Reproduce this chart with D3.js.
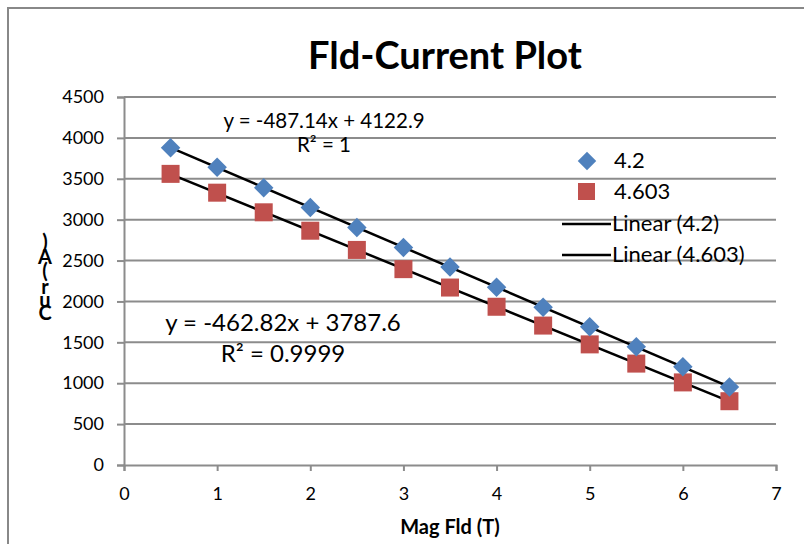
<!DOCTYPE html>
<html lang="en">
  <head>
    <meta charset="UTF-8" />
    <title>Fld-Current Plot</title>
    <script src="https://cdn.jsdelivr.net/npm/d3@7"></script>
    <style>
      body { margin: 0; background: #fff; }
      svg { display: block; font-family: Lato, "Open Sans", sans-serif; }
    </style>
  </head>
  <body>
    <div id="chart"></div>
    <script>
      // data
      const field = [0.5, 1, 1.5, 2, 2.5, 3, 3.5, 4, 4.5, 5, 5.5, 6, 6.5];
      const cur42 = [3880, 3640, 3390, 3150, 2905, 2660, 2420, 2175, 1930, 1690, 1445, 1200, 955];
      const cur4603 = [3560, 3330, 3090, 2865, 2630, 2395, 2170, 1935, 1705, 1475, 1240, 1010, 780];
      const xTicks = [0, 1, 2, 3, 4, 5, 6, 7];
      const yTicks = [0, 500, 1000, 1500, 2000, 2500, 3000, 3500, 4000, 4500];
      const seriesNames = ["4.2", "4.603"];

      const width = 804;
      const height = 544;
      const margin = { left: 124, right: 28, top: 97, bottom: 79 };

      const x = d3.scaleLinear().domain([0, 7]).range([margin.left, width - margin.right]);
      const y = d3.scaleLinear().domain([0, 4500]).range([height - margin.bottom, margin.top]);

      const svg = d3.select("#chart").append("svg")
        .attr("width", width)
        .attr("height", height);

      // outer frame (runs off the right and bottom edges)
      svg.append("path")
        .attr("d", "M8,560 V8 H820")
        .attr("fill", "none")
        .attr("stroke", "#888")
        .attr("stroke-width", 2);

      // gridlines
      svg.append("g")
        .selectAll("line")
        .data(yTicks.slice(1))
        .enter()
        .append("line")
        .attr("x1", x(0))
        .attr("x2", x(7))
        .attr("y1", d => y(d))
        .attr("y2", d => y(d))
        .attr("stroke", "#8c8c8c")
        .attr("stroke-width", 2);

      // axes
      const xAxis = svg.append("g")
        .attr("transform", `translate(0,${y(0)})`)
        .call(d3.axisBottom(x).tickValues(xTicks).tickSize(6).tickPadding(16).tickFormat(d3.format("d")));
      const yAxis = svg.append("g")
        .attr("transform", `translate(${x(0)},0)`)
        .call(d3.axisLeft(y).tickValues(yTicks).tickSize(7).tickPadding(13).tickFormat(d3.format("d")));
      [xAxis, yAxis].forEach(g => {
        g.select(".domain").attr("stroke", "#8c8c8c").attr("stroke-width", 2);
        g.selectAll(".tick line").attr("stroke", "#8c8c8c").attr("stroke-width", 2);
        g.selectAll("text").attr("font-family", "Lato, sans-serif").attr("font-size", 18).attr("fill", "#000");
      });

      // linear trend lines from least squares
      function fit(xs, ys) {
        const mx = d3.mean(xs), my = d3.mean(ys);
        const b = d3.sum(xs, (v, i) => (v - mx) * (ys[i] - my)) / d3.sum(xs, v => (v - mx) * (v - mx));
        return { b: b, a: my - b * mx };
      }
      [cur42, cur4603].forEach(ys => {
        const f = fit(field, ys);
        const x0 = d3.min(field), x1 = d3.max(field);
        svg.append("line")
          .attr("x1", x(x0)).attr("y1", y(f.a + f.b * x0))
          .attr("x2", x(x1)).attr("y2", y(f.a + f.b * x1))
          .attr("stroke", "#000")
          .attr("stroke-width", 2.5);
      });

      // markers
      svg.append("g")
        .selectAll("rect")
        .data(field)
        .enter()
        .append("rect")
        .attr("x", (d) => x(d) - 9)
        .attr("y", (d, i) => y(cur4603[i]) - 9)
        .attr("width", 18)
        .attr("height", 18)
        .attr("fill", "#c0504d");

      svg.append("g")
        .selectAll("path")
        .data(field)
        .enter()
        .append("path")
        .attr("d", d3.symbol(d3.symbolSquare, 190))
        .attr("transform", (d, i) => `translate(${x(d)},${y(cur42[i])}) rotate(45)`)
        .attr("fill", "#4f81bd");

      // title
      svg.append("text")
        .attr("x", 445)
        .attr("y", 69)
        .attr("text-anchor", "middle")
        .attr("font-size", 38)
        .attr("font-weight", "bold")
        .text("Fld-Current Plot");

      // x axis title
      svg.append("text")
        .attr("x", x(3.5))
        .attr("y", 534)
        .attr("text-anchor", "middle")
        .attr("font-size", 20)
        .attr("font-weight", "bold")
        .text("Mag Fld (T)");

      // y axis title, letters stacked
      const yLetters = [")", "A", "(", "r", "u", "C"];
      const yLetterPos = [249, 264, 278, 294, 307, 320];
      svg.append("g")
        .selectAll("text")
        .data(yLetters)
        .enter()
        .append("text")
        .attr("x", 45)
        .attr("y", (d, i) => yLetterPos[i])
        .attr("text-anchor", "middle")
        .attr("font-size", 20)
        .attr("font-weight", "bold")
        .text(d => d);

      // equations
      const eqs = [
        { t: "y = -487.14x + 4122.9", x: 324, y: 128, s: 20.5 },
        { t: "R² = 1", x: 324, y: 152, s: 20.5 },
        { t: "y = -462.82x + 3787.6", x: 283, y: 331, s: 24 },
        { t: "R² = 0.9999", x: 283, y: 362, s: 24 }
      ];
      svg.append("g")
        .selectAll("text")
        .data(eqs)
        .enter()
        .append("text")
        .attr("x", d => d.x)
        .attr("y", d => d.y)
        .attr("text-anchor", "middle")
        .attr("font-size", d => d.s)
        .text(d => d.t);

      // legend
      const lg = svg.append("g").attr("font-size", 22);
      lg.append("path")
        .attr("d", d3.symbol(d3.symbolSquare, 170))
        .attr("transform", "translate(587,161) rotate(45)")
        .attr("fill", "#4f81bd");
      lg.append("rect")
        .attr("x", 578).attr("y", 183).attr("width", 17).attr("height", 17)
        .attr("fill", "#c0504d");
      lg.append("line").attr("x1", 562).attr("x2", 611).attr("y1", 224).attr("y2", 224)
        .attr("stroke", "#000").attr("stroke-width", 2.5);
      lg.append("line").attr("x1", 562).attr("x2", 611).attr("y1", 255).attr("y2", 255)
        .attr("stroke", "#000").attr("stroke-width", 2.5);
      const legendText = [seriesNames[0], seriesNames[1], `Linear (${seriesNames[0]})`, `Linear (${seriesNames[1]})`];
      const legendY = [168, 199, 231, 262];
      lg.selectAll("text")
        .data(legendText)
        .enter()
        .append("text")
        .attr("x", (d, i) => i < 2 ? 614 : 612)
        .attr("y", (d, i) => legendY[i])
        .text(d => d);
    </script>
  </body>
</html>
